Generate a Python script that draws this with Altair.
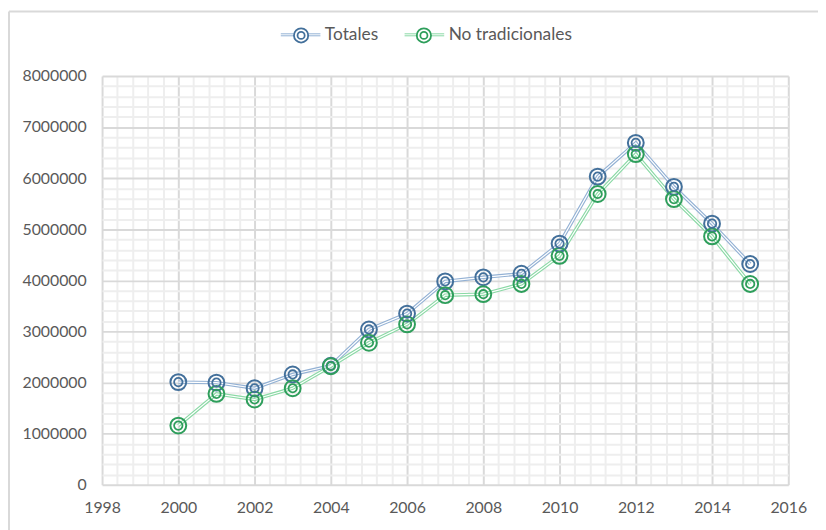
import altair as alt
import pandas as pd

years = list(range(2000, 2016))
totales = [2010000, 2000000, 1890000, 2160000, 2330000, 3040000, 3350000, 3980000,
           4060000, 4130000, 4720000, 6030000, 6690000, 5830000, 5110000, 4320000]
no_tradicionales = [1160000, 1780000, 1670000, 1890000, 2320000, 2780000, 3140000, 3710000,
                    3730000, 3930000, 4480000, 5690000, 6470000, 5590000, 4860000, 3930000]
series_names = ["Totales", "No tradicionales"]
line_colors = ["#93b1d4", "#8ad9a5"]
marker_colors = ["#43709b", "#2e9e5b"]

rows = []
for name, vals in zip(series_names, [totales, no_tradicionales]):
    for y, v in zip(years, vals):
        rows.append({"year": y, "value": v, "serie": name})
df = pd.DataFrame(rows)

FONT = "Lato"
W, H = 693, 413

x_vals = [round(1998 + 0.4 * i, 1) for i in range(46)]
y_vals = [i * 200000 for i in range(41)]

x_major = "abs(datum.value/2 - round(datum.value/2)) < 0.01"
y_major = "datum.value % 1000000 === 0"

x_axis = alt.Axis(
    values=x_vals, tickCount=500, tickMinStep=0.1,
    labelExpr=f"{x_major} ? format(datum.value, 'd') : ''",
    ticks=False, domain=False, labelOverlap=False, labelFlush=False, labelBound=False,
    labelFont=FONT, labelFontSize=16, labelColor="#595959", labelPadding=15,
    gridColor={"condition": {"test": x_major, "value": "#d9d9d9"}, "value": "#eeeeee"},
    gridWidth=2, title=None,
)
y_axis = alt.Axis(
    values=y_vals, tickCount=500,
    labelExpr=f"{y_major} ? format(datum.value, 'd') : ''",
    ticks=False, domain=False, labelOverlap=False, labelFlush=False, labelBound=False,
    labelFont=FONT, labelFontSize=16, labelColor="#595959", labelPadding=16,
    gridColor={"condition": {"test": y_major, "value": "#d9d9d9"}, "value": "#eeeeee"},
    gridWidth=2, title=None,
)

x_enc = alt.X("year:Q", scale=alt.Scale(domain=[1998, 2016], nice=False, zero=False), axis=x_axis)
y_enc = alt.Y("value:Q", scale=alt.Scale(domain=[0, 8000000], nice=False), axis=y_axis)

LEG_X, LEG_Y = 180, -62
line_sym = ("M-1,-0.05 L-0.32,-0.05 M0.32,-0.05 L1,-0.05 "
            "M-1,0.05 L-0.32,0.05 M0.32,0.05 L1,0.05")
circ_sym = ("M0.36,0 A0.36,0.36 0 1,1 -0.36,0 A0.36,0.36 0 1,1 0.36,0 "
            "M0.18,0 A0.18,0.18 0 1,1 -0.18,0 A0.18,0.18 0 1,1 0.18,0")

common_leg = dict(
    orient="none", legendX=LEG_X, legendY=LEG_Y, direction="horizontal", title=None,
    symbolSize=1600, labelFont=FONT, labelFontSize=17.5, labelColor="#595959",
    labelOffset=4, columnPadding=24, padding=0,
)

base = alt.Chart(df)

lines = base.mark_line(strokeWidth=3.5).encode(
    x=x_enc, y=y_enc,
    color=alt.Color("serie:N", scale=alt.Scale(domain=series_names, range=line_colors),
                    legend=alt.Legend(symbolType=line_sym, symbolStrokeWidth=1,
                                      symbolFillColor="transparent", **common_leg)),
)
lines_gap = base.mark_line(strokeWidth=1.2, color="white").encode(
    x=x_enc, y=y_enc, detail="serie:N",
)

stroke_enc = alt.Stroke("serie2:N", sort=series_names,
                        scale=alt.Scale(range=marker_colors),
                        legend=alt.Legend(symbolType=circ_sym, symbolStrokeWidth=1.8,
                                          symbolFillColor="transparent", labelOpacity=0,
                                          **common_leg))
pts_outer = base.transform_calculate(serie2="datum.serie").mark_point(
    filled=False, size=256, strokeWidth=2, opacity=1, shape="circle"
).encode(x=x_enc, y=y_enc, stroke=stroke_enc)
pts_inner = base.transform_calculate(serie2="datum.serie").mark_point(
    filled=False, size=72, strokeWidth=1.8, opacity=1, shape="circle"
).encode(x=x_enc, y=y_enc, stroke=stroke_enc)

border_df = pd.DataFrame({"k": [0]})
border_v = alt.Chart(border_df).mark_rule(color="#d9d9d9", strokeWidth=2).encode(
    x=alt.value(-94), y=alt.value(-65), y2=alt.value(460))
border_h = alt.Chart(border_df).mark_rule(color="#d9d9d9", strokeWidth=2).encode(
    x=alt.value(-94), x2=alt.value(730), y=alt.value(-65))

chart = alt.layer(border_v, border_h, lines, lines_gap, pts_outer, pts_inner).properties(
    width=W, height=H,
    padding={"left": 95, "top": 66, "right": 30, "bottom": 43},
    autosize=alt.AutoSizeParams(type="none"),
    background="white",
).configure_view(stroke=None)

chart.save("out.html", embed_options={"renderer": "svg", "actions": False})
